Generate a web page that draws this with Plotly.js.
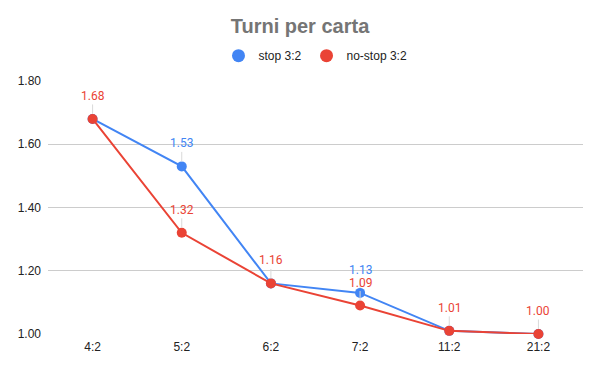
<!DOCTYPE html>
<html>
<head>
<meta charset="utf-8">
<script src="https://cdn.plot.ly/plotly-3.0.1.min.js"></script>
<style>html,body{margin:0;padding:0;background:#fff}#chart{width:600px;height:371px}</style>
</head>
<body>
<div id="chart"></div>
<script>
const categories = ["4:2", "5:2", "6:2", "7:2", "11:2", "21:2"];
const stopValues = [1.68, 1.53, 1.16, 1.13, 1.01, 1.00];
const noStopValues = [1.68, 1.32, 1.16, 1.09, 1.01, 1.00];
const seriesNames = ["stop 3:2", "no-stop 3:2"];
const yTicks = [1.0, 1.2, 1.4, 1.6, 1.8];

const BLUE = "#4285F4", RED = "#EA4335";

const traces = [
  {x: categories, y: stopValues, mode: "lines+markers", name: seriesNames[0], showlegend: false,
   line: {color: BLUE, width: 2}, marker: {color: BLUE, size: 10}, cliponaxis: false},
  {x: categories, y: noStopValues, mode: "lines+markers", name: seriesNames[1], showlegend: false,
   line: {color: RED, width: 2}, marker: {color: RED, size: 10}, cliponaxis: false},
  {x: [null], y: [null], mode: "markers", name: seriesNames[0], marker: {color: BLUE, size: 13}},
  {x: [null], y: [null], mode: "markers", name: seriesNames[1], marker: {color: RED, size: 13}}
];

const annotations = [];
function addLabel(cat, v, color) {
  annotations.push({x: cat, y: v, xref: "x", yref: "y", text: v.toFixed(2),
    showarrow: true, arrowhead: 0, arrowwidth: 1, arrowcolor: "#d9d9d9",
    ax: 0, ay: -23, standoff: 5, font: {family: "Roboto, Arial, sans-serif", size: 12, color: color}});
}
categories.forEach((c, i) => {
  if (stopValues[i] !== noStopValues[i]) addLabel(c, stopValues[i], BLUE);
  addLabel(c, noStopValues[i], RED);
});

const layout = {
  width: 600, height: 371,
  margin: {l: 48, r: 17, t: 81, b: 37},
  paper_bgcolor: "#fff", plot_bgcolor: "#fff",
  title: {text: "<b>Turni per carta</b>", x: 0.5, xanchor: "center", y: 1 - 26/371, yanchor: "middle",
    font: {family: "Liberation Sans, Arial, sans-serif", size: 20, color: "#757575"}},
  showlegend: true,
  legend: {orientation: "h", x: 0.5, xanchor: "center", y: 1.1, yanchor: "middle",
    font: {family: "Liberation Sans, Arial, sans-serif", size: 12, color: "#222"}, itemwidth: 30},
  xaxis: {type: "category", range: [-0.5, 5.5], showgrid: false, zeroline: false, showline: false,
    ticks: "", ticklabelstandoff: 4,
    tickfont: {family: "Liberation Sans, Arial, sans-serif", size: 12, color: "#222"}, fixedrange: true},
  yaxis: {range: [1.0, 1.8], tickvals: yTicks, ticktext: yTicks.map(v => v.toFixed(2)),
    showgrid: true, gridcolor: "#cccccc", gridwidth: 1, zeroline: false, showline: false,
    ticks: "", ticklabelstandoff: 6,
    tickfont: {family: "Liberation Sans, Arial, sans-serif", size: 12, color: "#222"}, fixedrange: true},
  annotations: annotations
};

Plotly.newPlot("chart", traces, layout, {displayModeBar: false, staticPlot: true});
</script>
</body>
</html>
